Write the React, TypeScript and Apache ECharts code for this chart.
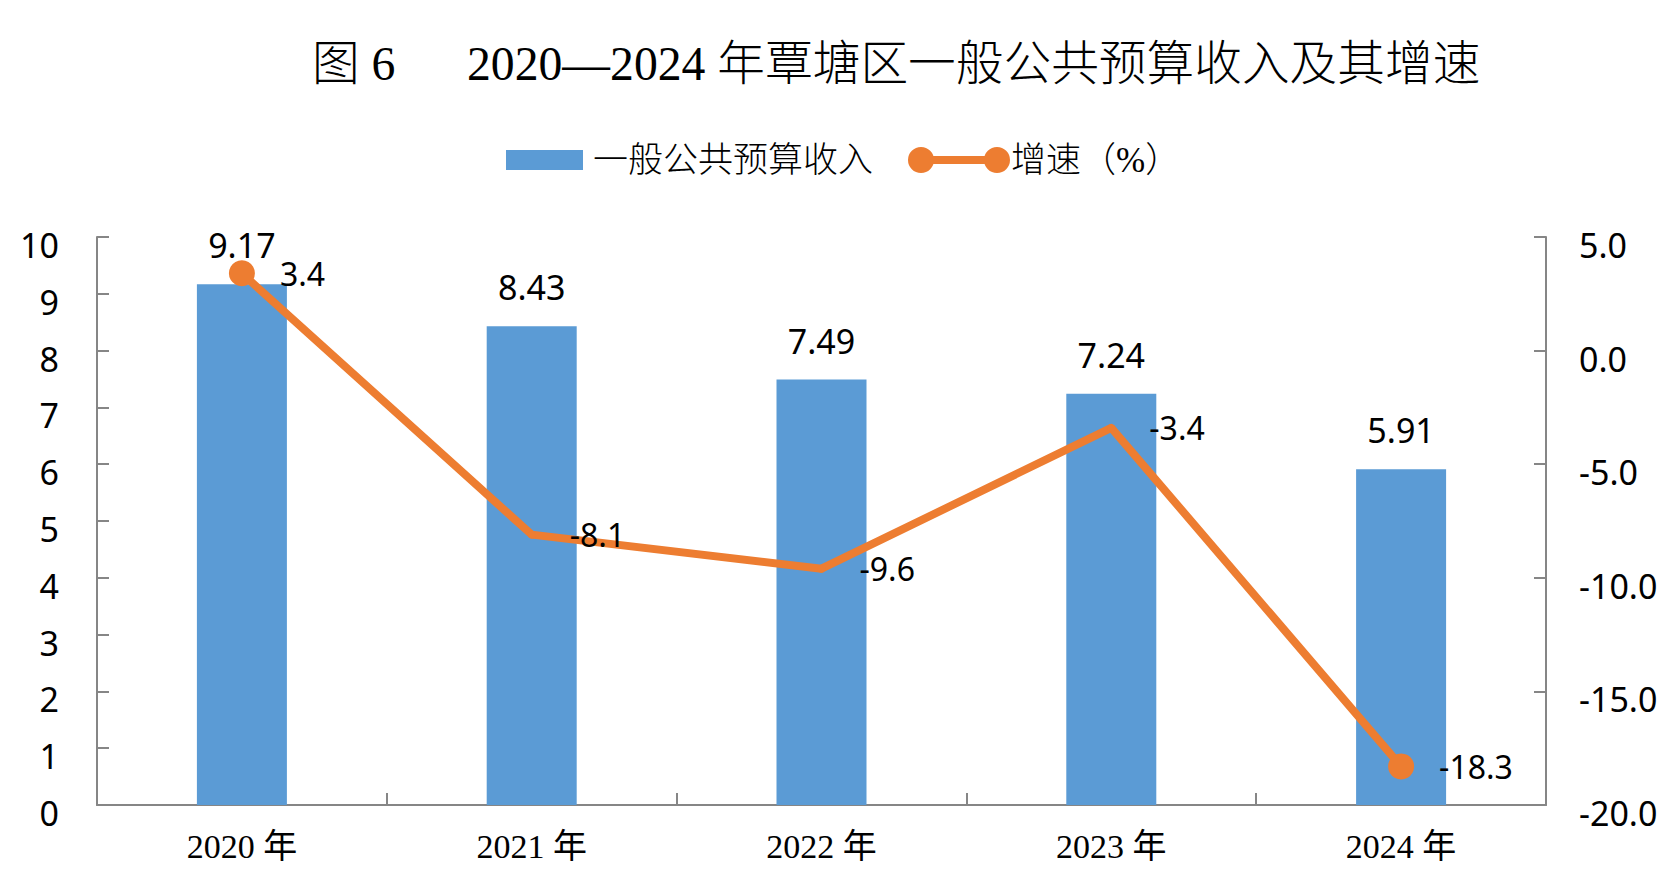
import React, { useEffect, useRef } from "react";
import * as echarts from "echarts";

const categories = ["2020 年", "2021 年", "2022 年", "2023 年", "2024 年"];
const revenue = [9.17, 8.43, 7.49, 7.24, 5.91];
const growth = [3.4, -8.1, -9.6, -3.4, -18.3];
const markerShown = [true, false, false, false, true];

const BAR_NAME = "一般公共预算收入";
const LINE_NAME = "增速（%）";
const TITLE = "图 6      2020—2024 年覃塘区一般公共预算收入及其增速";

const SANS = "'Noto Sans', 'Noto Sans CJK SC', sans-serif";
const SERIF = "'Liberation Serif', 'Noto Sans CJK SC', serif";
const AXIS_COLOR = "#868686";
const BAR_COLOR = "#5B9BD5";
const LINE_COLOR = "#ED7D31";

const LINE_ICON =
  "path://M0,13A13,13,0,1,1,26,13A13,13,0,1,1,0,13ZM76,13A13,13,0,1,1,102,13A13,13,0,1,1,76,13ZM13,9L89,9L89,17L13,17Z";

export default function App() {
  const ref = useRef<HTMLDivElement>(null);

  useEffect(() => {
    document.body.style.margin = "0";
    if (!ref.current) return;
    const chart = echarts.init(ref.current, undefined, { renderer: "svg" });

    const lineData = growth.map((v, i) =>
      markerShown[i]
        ? { value: v, symbolSize: 26, label: { distance: 25 } }
        : { value: v, symbolSize: 8, label: { distance: 34 } }
    );

    chart.setOption({
      animation: false,
      backgroundColor: "#ffffff",
      title: {
        text: TITLE,
        left: 307,
        top: 35,
        textStyle: {
          fontFamily: SERIF,
          fontSize: 47.7,
          fontWeight: 300,
          color: "#000",
        },
      },
      legend: [
        {
          data: [{ name: BAR_NAME, icon: "rect" }],
          left: 501,
          top: 137,
          itemWidth: 77,
          itemHeight: 20,
          textStyle: {
            fontFamily: SERIF,
            fontSize: 35,
            fontWeight: 300,
            color: "#000",
            lineHeight: 36,
            padding: [0, 0, 0, 5],
          },
        },
        {
          data: [{ name: LINE_NAME, icon: LINE_ICON }],
          left: 903,
          top: 137,
          itemWidth: 102,
          itemHeight: 26,
          itemGap: 0,
          textStyle: {
            fontFamily: SERIF,
            fontSize: 35,
            fontWeight: 300,
            color: "#000",
            lineHeight: 36,
            padding: [0, 0, 0, -4],
          },
        },
      ],
      grid: {
        left: 97,
        right: 134,
        top: 237,
        bottom: 83,
        containLabel: false,
        outerBoundsMode: "none",
      },
      xAxis: {
        type: "category",
        data: categories,
        boundaryGap: true,
        axisLine: { lineStyle: { color: AXIS_COLOR, width: 2 } },
        axisTick: {
          show: true,
          inside: true,
          length: 12,
          alignWithLabel: false,
          lineStyle: { color: AXIS_COLOR, width: 2 },
        },
        axisLabel: {
          margin: 24,
          fontFamily: SERIF,
          fontSize: 34,
          color: "#000",
        },
        splitLine: { show: false },
      },
      yAxis: [
        {
          type: "value",
          min: 0,
          max: 10,
          interval: 1,
          axisLine: { show: true, lineStyle: { color: AXIS_COLOR, width: 2 } },
          axisTick: {
            show: true,
            inside: true,
            length: 12,
            lineStyle: { color: AXIS_COLOR, width: 2 },
          },
          axisLabel: {
            margin: 38,
            fontFamily: SANS,
            fontSize: 34,
            color: "#000",
            verticalAlign: "top",
            lineHeight: 16,
          },
          splitLine: { show: false },
        },
        {
          type: "value",
          min: -20,
          max: 5,
          interval: 5,
          position: "right",
          axisLine: { show: true, lineStyle: { color: AXIS_COLOR, width: 2 } },
          axisTick: {
            show: true,
            inside: true,
            length: 12,
            lineStyle: { color: AXIS_COLOR, width: 2 },
          },
          axisLabel: {
            margin: 33,
            fontFamily: SANS,
            fontSize: 34,
            color: "#000",
            verticalAlign: "top",
            lineHeight: 16,
            formatter: (v: number) => v.toFixed(1),
          },
          splitLine: { show: false },
        },
      ],
      series: [
        {
          name: BAR_NAME,
          type: "bar",
          data: revenue,
          barWidth: 90,
          itemStyle: { color: BAR_COLOR },
          label: {
            show: true,
            position: "top",
            distance: 22,
            fontFamily: SANS,
            fontSize: 34,
            color: "#000",
            formatter: (p: any) => Number(p.value).toFixed(2),
          },
          z: 2,
        },
        {
          name: LINE_NAME,
          type: "line",
          yAxisIndex: 1,
          data: lineData,
          symbol: "circle",
          showSymbol: true,
          color: LINE_COLOR,
          itemStyle: { color: LINE_COLOR, borderWidth: 0 },
          lineStyle: { color: LINE_COLOR, width: 8 },
          label: {
            show: true,
            position: "right",
            fontFamily: SANS,
            fontSize: 32,
            color: "#000",
            formatter: (p: any) => Number(p.value).toFixed(1),
          },
          z: 3,
        },
      ],
    });

    return () => {
      chart.dispose();
    };
  }, []);

  return (
    <div
      ref={ref}
      style={{ position: "fixed", left: 0, top: 0, width: 1680, height: 888 }}
    />
  );
}
